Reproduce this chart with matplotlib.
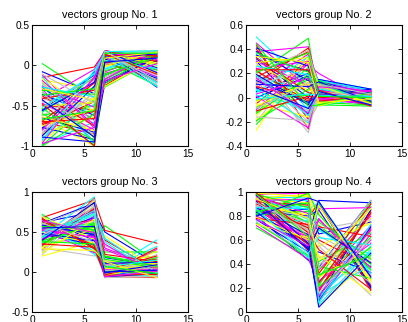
import matplotlib
matplotlib.use("Agg")
import matplotlib.pyplot as plt

plt.rcParams['font.family'] = ['Liberation Sans', 'DejaVu Sans']

# sample positions of every vector
xs = [1, 6, 7, 12]

# group 1 : values at x = 1, 6, 7, 12
g1_x1 = [-0.08, 0.02, -0.15, -0.22, -0.30, -0.18, -0.40, -0.55, -0.62, -0.70, -0.25, -0.85,
         -0.95, -0.45, -0.78, -0.33, -0.50, -0.92, -0.12, -0.66, -0.88, -0.28, -0.58, -0.74,
         -0.98, -0.42, -0.20, -0.81, -0.36, -0.53, -0.69, -0.90, -0.47, -0.16, -0.62, -0.77,
         -0.99, -0.38, -0.57, -0.26, -0.84, -0.44, -0.65, -0.31, -0.72, -0.14, -0.96, -0.51,
         -0.23, -0.87, -0.60, -0.41, -0.93, -0.19, -0.75, -0.34, -0.56, -1.00, -0.48, -0.27,
         -0.80, -0.64, -0.11, -0.89, -0.37, -0.70, -0.52, -0.97, -0.29, -0.83, -0.43, -0.67]
g1_x6 = [-0.35, -0.40, -0.02, -0.60, -0.95, -0.30, -0.72, -0.12, -0.50, -0.85, -0.98, -0.20,
         -0.40, -0.65, -0.08, -0.90, -0.55, -0.25, -0.78, -1.00, -0.33, -0.68, -0.15, -0.45,
         -0.70, -0.05, -0.88, -0.38, -0.62, -0.99, -0.22, -0.48, -0.80, -0.58, -0.28, -0.92,
         -0.42, -0.75, -0.10, -0.52, -0.64, -0.18, -0.83, -0.36, -0.57, -0.97, -0.14, -0.46,
         -0.69, -0.26, -0.93, -0.31, -0.06, -0.74, -0.54, -0.87, -0.21, -0.60, -1.00, -0.39,
         -0.16, -0.81, -0.47, -0.95, -0.29, -0.66, -0.11, -0.77, -0.43, -0.34, -0.89, -0.56]
g1_x7 = [0.18, 0.12, 0.17, -0.05, 0.15, 0.10, 0.02, 0.18, -0.27, 0.08, 0.16, -0.12,
         0.05, 0.17, -0.20, 0.14, 0.00, 0.18, -0.08, 0.11, -0.15, 0.16, 0.06, -0.25,
         0.13, 0.18, -0.02, 0.09, 0.17, -0.18, 0.04, 0.15, -0.10, 0.18, 0.07, -0.22,
         0.12, 0.16, -0.04, 0.10, 0.17, 0.14, 0.18, -0.13, 0.03, 0.16, 0.11, -0.26,
         0.17, 0.08, -0.07, 0.18, 0.13, -0.17, 0.15, 0.01, 0.18, -0.23, 0.12, 0.06,
         0.16, -0.01, 0.18, 0.10, -0.11, 0.14, 0.17, -0.19, 0.09, 0.18, 0.04, 0.15]
g1_x12 = [0.10, 0.18, -0.20, 0.15, -0.05, 0.17, 0.12, -0.27, 0.08, 0.18, -0.15, 0.05,
          0.16, -0.08, 0.11, 0.02, 0.18, -0.22, 0.14, -0.10, 0.17, 0.06, -0.25, 0.13,
          0.00, 0.09, 0.18, -0.12, 0.04, 0.15, -0.18, 0.16, 0.07, -0.02, 0.18, 0.10,
          -0.06, 0.12, 0.17, -0.14, 0.03, 0.16, -0.03, 0.18, 0.11, -0.21, 0.14, 0.08,
          0.18, -0.16, 0.13, 0.05, -0.26, 0.17, 0.01, 0.15, -0.09, 0.18, 0.12, -0.04,
          0.07, 0.17, -0.24, 0.14, 0.10, -0.11, 0.18, 0.02, 0.16, -0.19, 0.09, 0.15]

# group 2
g2_x1 = [0.30, 0.20, 0.43, 0.50, 0.38, 0.10, -0.20, 0.05, 0.22, -0.05, 0.36, 0.15,
         -0.27, 0.28, 0.00, -0.12, 0.40, 0.18, 0.08, -0.18, 0.25, 0.32, -0.08, 0.12,
         0.02, 0.45, -0.15, 0.20, 0.35, -0.02, 0.17, 0.06, -0.10, 0.27, 0.13, 0.38,
         -0.22, 0.22, 0.04, 0.30, -0.05, 0.10, 0.19, -0.13, 0.33, 0.07, 0.24, -0.03,
         0.15, 0.41, -0.19, 0.09, 0.26, 0.01, -0.07, 0.21, 0.14, 0.37, -0.11, 0.18,
         0.03, 0.29, -0.16, 0.11, 0.44, 0.23, -0.01, 0.16, 0.34, -0.09, 0.08, 0.21]
g2_x6 = [-0.14, 0.49, -0.26, 0.10, 0.42, -0.22, 0.35, 0.20, -0.05, 0.30, -0.10, 0.27,
         0.40, -0.02, 0.18, 0.25, -0.18, 0.05, 0.36, 0.12, -0.29, 0.00, 0.15, 0.41,
         -0.08, 0.08, 0.32, -0.20, 0.22, 0.02, 0.38, -0.12, 0.28, 0.06, -0.24, 0.14,
         0.20, -0.03, 0.34, 0.10, -0.16, 0.24, -0.06, 0.17, 0.04, -0.21, 0.30, 0.11,
         -0.11, 0.26, 0.07, -0.01, 0.19, -0.25, 0.13, 0.39, -0.04, 0.21, 0.01, -0.15,
         0.16, 0.33, -0.19, 0.09, -0.07, 0.23, 0.03, -0.13, 0.29, 0.12, -0.09, 0.37]
g2_x7 = [0.05, -0.05, 0.10, 0.15, 0.08, -0.02, 0.12, 0.00, 0.14, 0.06, -0.06, 0.20,
         0.03, 0.09, -0.04, 0.11, 0.07, -0.07, 0.13, 0.02, 0.08, 0.15, -0.03, 0.04,
         0.10, 0.01, 0.12, -0.05, 0.06, 0.09, 0.00, 0.14, -0.02, 0.05, 0.11, 0.03,
         -0.06, 0.08, 0.12, -0.01, 0.07, 0.04, 0.13, -0.04, 0.02, 0.10, 0.06, -0.07,
         0.09, 0.01, 0.14, -0.03, 0.05, 0.11, -0.05, 0.08, 0.03, 0.12, 0.00, 0.07,
         -0.02, 0.10, 0.04, 0.13, -0.06, 0.06, 0.02, 0.09, -0.04, 0.11, 0.05, 0.01]
g2_x12 = [-0.03, 0.02, 0.05, 0.07, -0.05, 0.00, 0.03, -0.06, 0.06, -0.02, 0.01, -0.04,
          0.04, -0.07, 0.02, 0.05, -0.03, 0.00, 0.06, -0.05, 0.03, 0.07, -0.01, -0.04,
          0.04, -0.06, 0.02, 0.00, 0.05, -0.03, 0.01, 0.06, -0.05, 0.03, -0.02, 0.04,
          -0.07, 0.00, 0.05, -0.04, 0.02, -0.01, 0.03, -0.06, 0.06, -0.02, 0.01, 0.04,
          -0.05, 0.07, -0.03, 0.02, -0.06, 0.05, 0.00, -0.02, 0.04, -0.04, 0.03, 0.01,
          0.06, -0.05, 0.02, -0.03, 0.04, -0.07, 0.01, 0.05, -0.01, 0.03, -0.06, 0.00]

# group 3
g3_x1 = [0.62, 0.72, 0.68, 0.45, 0.55, 0.38, 0.30, 0.65, 0.50, 0.42, 0.58, 0.35,
         0.60, 0.25, 0.48, 0.66, 0.40, 0.53, 0.33, 0.20, 0.63, 0.46, 0.57, 0.28,
         0.70, 0.43, 0.52, 0.36, 0.61, 0.32, 0.55, 0.64, 0.40, 0.49, 0.22, 0.59,
         0.44, 0.67, 0.37, 0.51, 0.30, 0.56, 0.47, 0.62, 0.34, 0.54, 0.41, 0.69,
         0.27, 0.58, 0.39, 0.63, 0.45, 0.52, 0.31, 0.60, 0.48, 0.36, 0.66, 0.43,
         0.53, 0.24, 0.61, 0.40, 0.57, 0.35, 0.50, 0.64, 0.29, 0.46, 0.55, 0.38]
g3_x6 = [0.75, 0.30, 0.90, 0.94, 0.50, 0.85, 0.20, 0.40, 0.62, 0.80, 0.35, 0.70,
         0.55, 0.88, 0.45, 0.25, 0.78, 0.60, 0.82, 0.38, 0.32, 0.68, 0.48, 0.92,
         0.28, 0.58, 0.72, 0.42, 0.86, 0.52, 0.65, 0.22, 0.76, 0.36, 0.83, 0.46,
         0.56, 0.30, 0.74, 0.44, 0.89, 0.63, 0.34, 0.51, 0.79, 0.26, 0.67, 0.41,
         0.91, 0.47, 0.59, 0.33, 0.71, 0.24, 0.54, 0.84, 0.39, 0.61, 0.29, 0.77,
         0.43, 0.66, 0.37, 0.87, 0.53, 0.31, 0.73, 0.49, 0.27, 0.81, 0.57, 0.35]
g3_x7 = [0.50, 0.58, 0.52, 0.00, -0.05, 0.12, 0.33, 0.05, -0.07, 0.40, 0.02, -0.03,
         0.15, 0.08, -0.06, 0.25, 0.03, -0.02, 0.10, 0.45, -0.07, 0.06, 0.20, -0.04,
         0.01, 0.35, 0.04, -0.05, 0.12, 0.00, -0.06, 0.08, 0.30, -0.03, 0.02, 0.18,
         -0.07, 0.05, 0.38, -0.01, 0.07, 0.14, -0.05, 0.03, 0.22, -0.04, 0.09, 0.00,
         0.06, -0.06, 0.16, 0.02, -0.02, 0.28, 0.04, -0.07, 0.11, 0.01, -0.03, 0.42,
         0.03, -0.05, 0.09, 0.00, 0.19, -0.04, 0.06, -0.06, 0.13, 0.02, -0.01, 0.07]
g3_x12 = [0.10, 0.12, 0.36, 0.40, 0.28, 0.20, 0.05, -0.05, 0.15, 0.02, 0.32, 0.08,
          -0.03, 0.18, 0.00, 0.25, 0.06, -0.06, 0.12, 0.04, 0.22, -0.02, 0.09, 0.30,
          0.03, -0.04, 0.14, 0.07, 0.01, 0.18, -0.07, 0.10, 0.05, 0.26, -0.01, 0.08,
          0.02, 0.16, -0.05, 0.06, 0.11, 0.00, 0.04, -0.03, 0.13, 0.07, -0.06, 0.01,
          0.09, -0.02, 0.05, 0.20, -0.04, 0.03, 0.08, -0.06, 0.12, 0.00, 0.06, -0.01,
          0.04, 0.10, -0.05, 0.02, 0.07, -0.03, 0.15, 0.01, -0.07, 0.05, 0.09, -0.02]

# group 4
g4_x1 = [0.80, 0.85, 0.88, 0.95, 0.98, 0.92, 0.75, 0.82, 0.90, 0.97, 0.86, 0.78,
         0.93, 0.99, 0.84, 0.70, 0.91, 0.96, 0.80, 0.87, 0.94, 0.77, 0.89, 0.99,
         0.83, 0.72, 0.95, 0.90, 0.81, 0.98, 0.86, 0.93, 0.79, 0.88, 0.96, 0.84,
         0.74, 0.92, 0.97, 0.85, 0.99, 0.90, 0.87, 0.81, 0.94, 0.76, 0.89, 0.95,
         0.91, 0.83, 0.98, 0.78, 0.86, 0.93, 0.73, 0.88, 0.97, 0.82, 0.90, 0.85,
         0.96, 0.79, 0.89, 0.92, 0.84, 0.99, 0.87, 0.77, 0.94, 0.91, 0.80, 0.98]
g4_x6 = [0.43, 0.70, 0.56, 0.85, 0.99, 0.62, 0.48, 0.92, 0.75, 0.52, 0.88, 0.65,
         0.97, 0.58, 0.80, 0.46, 0.72, 0.95, 0.60, 0.83, 0.68, 0.50, 0.90, 0.78,
         0.55, 0.44, 0.98, 0.66, 0.86, 0.74, 0.57, 0.93, 0.63, 0.81, 0.69, 0.54,
         0.47, 0.89, 0.77, 0.61, 0.96, 0.71, 0.64, 0.84, 0.51, 0.76, 0.59, 0.91,
         0.67, 0.53, 0.87, 0.73, 0.45, 0.94, 0.62, 0.79, 0.57, 0.99, 0.70, 0.49,
         0.82, 0.60, 0.74, 0.52, 0.91, 0.66, 0.86, 0.55, 0.78, 0.68, 0.95, 0.63]
g4_x7 = [0.37, 0.70, 0.18, 0.92, 0.10, 0.05, 0.55, 0.65, 0.28, 0.90, 0.12, 0.08,
         0.72, 0.40, 0.85, 0.22, 0.60, 0.15, 0.35, 0.88, 0.07, 0.50, 0.30, 0.92,
         0.68, 0.25, 0.82, 0.45, 0.12, 0.72, 0.20, 0.06, 0.78, 0.33, 0.63, 0.90,
         0.42, 0.17, 0.70, 0.26, 0.55, 0.10, 0.93, 0.38, 0.71, 0.14, 0.86, 0.29,
         0.58, 0.09, 0.75, 0.32, 0.91, 0.19, 0.47, 0.69, 0.04, 0.81, 0.24, 0.62,
         0.13, 0.89, 0.36, 0.70, 0.21, 0.52, 0.08, 0.77, 0.43, 0.16, 0.92, 0.31]
g4_x12 = [0.93, 0.40, 0.85, 0.30, 0.65, 0.45, 0.14, 0.75, 0.92, 0.22, 0.55, 0.70,
          0.35, 0.60, 0.20, 0.88, 0.38, 0.50, 0.80, 0.27, 0.90, 0.33, 0.62, 0.18,
          0.48, 0.72, 0.25, 0.58, 0.85, 0.40, 0.68, 0.52, 0.30, 0.78, 0.42, 0.21,
          0.66, 0.83, 0.36, 0.57, 0.74, 0.46, 0.91, 0.28, 0.63, 0.39, 0.87, 0.53,
          0.24, 0.71, 0.44, 0.90, 0.32, 0.60, 0.16, 0.77, 0.49, 0.35, 0.82, 0.56,
          0.69, 0.26, 0.93, 0.41, 0.54, 0.19, 0.73, 0.37, 0.86, 0.61, 0.29, 0.47]

groups = [(g1_x1, g1_x6, g1_x7, g1_x12),
          (g2_x1, g2_x6, g2_x7, g2_x12),
          (g3_x1, g3_x6, g3_x7, g3_x12),
          (g4_x1, g4_x6, g4_x7, g4_x12)]
titles = ['vectors group No. 1', 'vectors group No. 2', 'vectors group No. 3', 'vectors group No. 4']
ylims = [(-1, 0.5), (-0.4, 0.6), (-0.5, 1), (0, 1)]
yticks = [[-1, -0.5, 0, 0.5], [-0.4, -0.2, 0, 0.2, 0.4, 0.6], [-0.5, 0, 0.5, 1], [0, 0.2, 0.4, 0.6, 0.8, 1]]

# matlab style colour order
colours = ['#0000ff', '#00ff00', '#ff0000', '#00ffff', '#ff00ff', '#ffff00', '#c0c0c0']

W, H = 408, 322
fig = plt.figure(figsize=(W / 100, H / 100), dpi=100)
# axes boxes in pixels: left, top, width, height
boxes = [(32, 25, 156, 121), (246, 25, 156, 121), (32, 192, 156, 120), (246, 192, 156, 120)]

for k in range(4):
    l, t, w, h = boxes[k]
    ax = fig.add_axes([l / W, 1 - (t + h) / H, w / W, h / H])
    cols = groups[k]
    for i in range(len(cols[0])):
        ys = [cols[0][i], cols[1][i], cols[2][i], cols[3][i]]
        ax.plot(xs, ys, color=colours[i % len(colours)], lw=0.8)
    ax.set_xlim(0, 15)
    ax.set_ylim(*ylims[k])
    ax.set_xticks([0, 5, 10, 15])
    ax.set_yticks(yticks[k])
    ax.set_yticklabels([('%g' % v) for v in yticks[k]])
    ax.tick_params(direction='in', length=3, width=0.6, top=True, right=True, labelsize=7.3, pad=2)
    for s in ax.spines.values():
        s.set_linewidth(0.8)
    ax.set_title(titles[k], fontsize=7.8, pad=5)

fig.savefig('out.png', dpi=100)
